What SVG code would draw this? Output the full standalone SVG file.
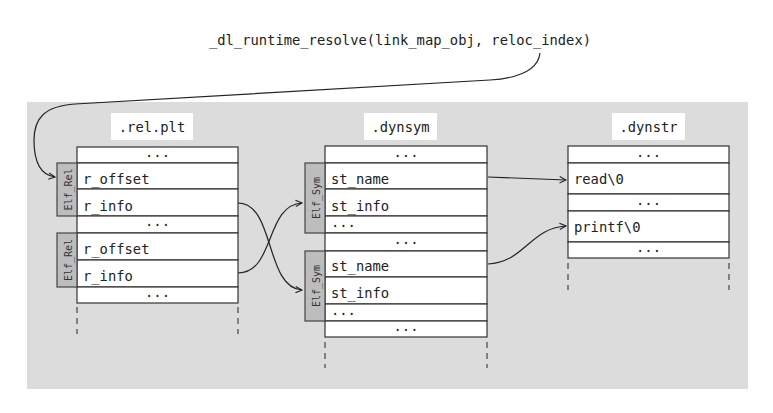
<svg xmlns="http://www.w3.org/2000/svg" width="773" height="413" viewBox="0 0 773 413">
<style>
text{font-family:"DejaVu Sans Mono","Liberation Mono",monospace;font-size:13.8px;fill:#222}
.row{fill:#fff;stroke:#333;stroke-width:1.2}
.tab{fill:#bdbdbd;stroke:#444;stroke-width:1.2}
.tabt{font-size:10px;fill:#333}
.lbl{fill:#fff}
.dash{stroke:#444;stroke-width:1.2;stroke-dasharray:6,5}
.c{text-anchor:middle}
.conn{fill:none;stroke:#222;stroke-width:1.2;marker-end:url(#ah)}
</style>
<defs>
<marker id="ah" viewBox="0 0 10 10" refX="9" refY="5" markerWidth="8" markerHeight="8" markerUnits="userSpaceOnUse" orient="auto">
<path d="M1,1 L9,5 L1,9" fill="none" stroke="#222" stroke-width="1.3"/>
</marker>
</defs>
<rect x="27" y="102" width="721" height="287" fill="#dcdcdc"/>
<text x="400" y="45" class="c">_dl_runtime_resolve(link_map_obj, reloc_index)</text>

<g id="relplt">
<rect class="lbl" x="111" y="113" width="82" height="27"/>
<text x="152" y="132" class="c">.rel.plt</text>
<rect class="row" x="77" y="147" width="161" height="16"/>
<text x="157.5" y="157" class="c">...</text>
<rect class="row" x="77" y="163" width="161" height="26"/>
<text x="83" y="184">r_offset</text>
<rect class="row" x="77" y="189" width="161" height="27"/>
<text x="83" y="211">r_info</text>
<rect class="row" x="77" y="216" width="161" height="17"/>
<text x="157.5" y="226" class="c">...</text>
<rect class="row" x="77" y="233" width="161" height="27"/>
<text x="83" y="254">r_offset</text>
<rect class="row" x="77" y="260" width="161" height="27"/>
<text x="83" y="281">r_info</text>
<rect class="row" x="77" y="287" width="161" height="16"/>
<text x="157.5" y="297" class="c">...</text>
<line class="dash" x1="77" y1="307" x2="77" y2="334"/>
<line class="dash" x1="238" y1="307" x2="238" y2="334"/>
</g>
<g id="elfrel1">
<rect class="tab" x="57" y="163" width="20" height="53"/>
<text class="tabt c" transform="translate(71.5,189.5) rotate(-90)">Elf_Rel</text>
</g>
<g id="elfrel2">
<rect class="tab" x="57" y="233" width="20" height="54"/>
<text class="tabt c" transform="translate(71.5,260) rotate(-90)">Elf_Rel</text>
</g>

<g id="dynsym">
<rect class="lbl" x="364" y="113" width="73" height="27"/>
<text x="400.5" y="132" class="c">.dynsym</text>
<rect class="row" x="325" y="146" width="162" height="17"/>
<text x="406" y="157" class="c">...</text>
<rect class="row" x="325" y="163" width="162" height="26"/>
<text x="331" y="184">st_name</text>
<rect class="row" x="325" y="189" width="162" height="27"/>
<text x="331" y="211">st_info</text>
<rect class="row" x="325" y="216" width="162" height="17"/>
<text x="331" y="227">...</text>
<rect class="row" x="325" y="233" width="162" height="18"/>
<text x="406" y="244" class="c">...</text>
<rect class="row" x="325" y="251" width="162" height="26"/>
<text x="331" y="271">st_name</text>
<rect class="row" x="325" y="277" width="162" height="27"/>
<text x="331" y="298">st_info</text>
<rect class="row" x="325" y="304" width="162" height="17"/>
<text x="331" y="315">...</text>
<rect class="row" x="325" y="321" width="162" height="16"/>
<text x="406" y="331" class="c">...</text>
<line class="dash" x1="325" y1="342" x2="325" y2="368"/>
<line class="dash" x1="487" y1="342" x2="487" y2="368"/>
</g>
<g id="elfsym1">
<rect class="tab" x="305" y="163" width="20" height="70"/>
<text class="tabt c" transform="translate(319.5,198) rotate(-90)">Elf_Sym</text>
</g>
<g id="elfsym2">
<rect class="tab" x="305" y="251" width="20" height="70"/>
<text class="tabt c" transform="translate(319.5,286) rotate(-90)">Elf_Sym</text>
</g>

<g id="dynstr">
<rect class="lbl" x="612" y="113" width="73" height="27"/>
<text x="648.5" y="132" class="c">.dynstr</text>
<rect class="row" x="568" y="146" width="161" height="17"/>
<text x="648.5" y="157" class="c">...</text>
<rect class="row" x="568" y="163" width="161" height="31"/>
<text x="574" y="184">read\0</text>
<rect class="row" x="568" y="194" width="161" height="17"/>
<text x="648.5" y="205" class="c">...</text>
<rect class="row" x="568" y="211" width="161" height="31"/>
<text x="574" y="232">printf\0</text>
<rect class="row" x="568" y="242" width="161" height="16"/>
<text x="648.5" y="252" class="c">...</text>
<line class="dash" x1="568" y1="263" x2="568" y2="290"/>
<line class="dash" x1="729" y1="263" x2="729" y2="290"/>
</g>

<g id="connectors">
<path class="conn" d="M540,53 C538,70 520,78 490,80 L75,104 C45,106 34,118 34,140 C34,162 40,175 55,177"/>
<path class="conn" d="M238,203 C275,203 265,288 302,290"/>
<path class="conn" d="M238,273 C275,273 265,205 302,203"/>
<path class="conn" d="M488,177 L566,180"/>
<path class="conn" d="M488,264 C525,262 530,228 566,226"/>
</g>
</svg>
